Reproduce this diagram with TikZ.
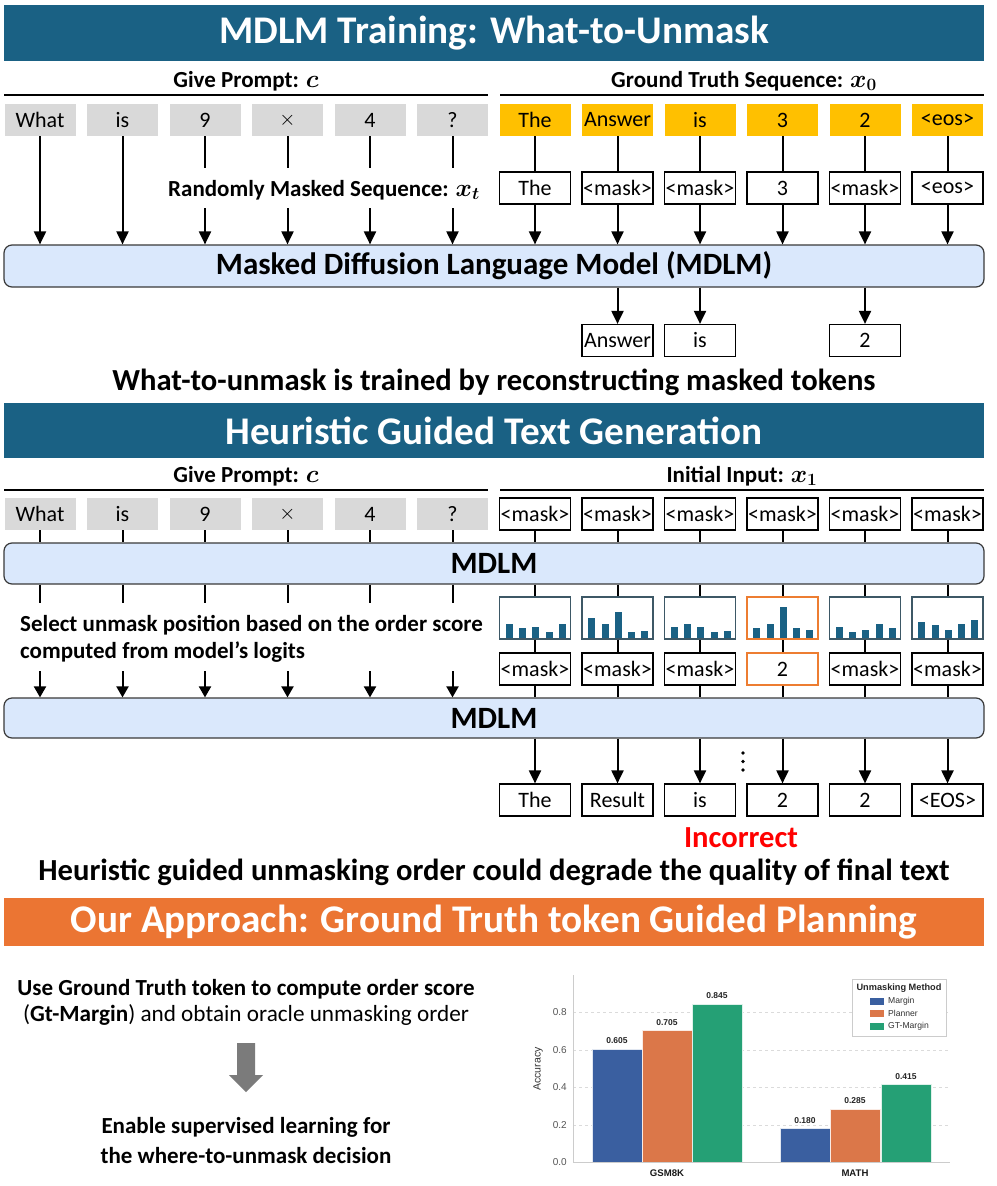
\documentclass[tikz,border=0pt]{standalone}
\usepackage{fontspec}
\usepackage{amsmath}
\setmainfont{Carlito}
\newfontfamily\chartfont{Liberation Sans}
\usetikzlibrary{arrows.meta,calc}
\definecolor{hdrblue}{HTML}{1A6184}
\definecolor{hdrorange}{HTML}{EB7533}
\definecolor{tokgray}{HTML}{D9D9D9}
\definecolor{tokyellow}{HTML}{FFC000}
\definecolor{mdlmfill}{HTML}{DAE8FC}
\definecolor{mdlmborder}{HTML}{3A3A3A}
\definecolor{barblue}{HTML}{1A6184}
\definecolor{barborder}{HTML}{3D5866}
\definecolor{hlorange}{HTML}{ED7D31}
\definecolor{arrgray}{HTML}{7B7B7B}
\definecolor{cMargin}{HTML}{3A5FA0}
\definecolor{cPlanner}{HTML}{DB7749}
\definecolor{cGT}{HTML}{25A075}
\definecolor{spinegray}{HTML}{CCCCCC}
\definecolor{ticktext}{HTML}{555555}
\newcommand{\tokfont}{\fontsize{22}{25}\selectfont}
\newcommand{\hdrfont}{\fontsize{39.2}{43}\selectfont\bfseries}
\newcommand{\lblfont}{\fontsize{23}{26}\selectfont\bfseries}
\newcommand{\bigfont}{\fontsize{30.6}{34}\selectfont\bfseries}
\newcommand{\mdfont}{\fontsize{31}{35}\selectfont\bfseries}
\tikzset{
  tok/.style={minimum width=71pt, minimum height=32pt, inner sep=0pt, font=\tokfont},
  gtok/.style={tok, fill=tokgray},
  ytok/.style={tok, fill=tokyellow},
  wtok/.style={tok, draw=black, line width=1.2pt, fill=white},
  hltok/.style={tok, draw=hlorange, line width=2.5pt, fill=white},
  arr/.style={line width=2pt, -{Triangle[width=12pt,length=13pt]}},
  sarr/.style={line width=2pt, -{Triangle[width=12pt,length=11pt]}},
  ln/.style={line width=2pt},
  mdlm/.style={draw=mdlmborder, fill=mdlmfill, rounded corners=8pt, line width=1.2pt, minimum width=980pt, inner sep=0pt, font=\mdfont},
  header/.style={minimum width=980pt, inner sep=0pt, text=white, font=\hdrfont},
  lbl/.style={inner sep=0pt, font=\lblfont},
  bigtxt/.style={inner sep=0pt, font=\bigfont},
  barbox/.style={minimum width=71pt, minimum height=42pt, inner sep=0pt, draw=barborder, line width=1.2pt},
  hlbarbox/.style={minimum width=71pt, minimum height=42pt, inner sep=0pt, draw=hlorange, line width=2.5pt},
  btxt/.style={inner sep=0pt, font=\fontsize{23.2}{26}\selectfont},
  tick/.style={inner sep=0pt, anchor=east, text=ticktext, font=\chartfont\fontsize{10}{12}\selectfont},
  vallbl/.style={inner sep=0pt, text=black!85, font=\chartfont\bfseries\fontsize{8.5}{10}\selectfont},
  catlbl/.style={inner sep=0pt, text=black!90, font=\chartfont\bfseries\fontsize{9.6}{11}\selectfont},
  leg/.style={inner sep=0pt, anchor=west, text=black!80, font=\chartfont\fontsize{8.6}{10}\selectfont},
}
\begin{document}
\begin{tikzpicture}[x=1pt,y=-1pt]
\useasboundingbox (0,0) rectangle (996,1186);
\fill[white] (0,0) rectangle (996,1186);

% ===== Section 1 =====
\node[header, fill=hdrblue, minimum height=56pt] (h1) at (494,33) {MDLM Training: What-to-Unmask};
\node[lbl] (gp1) at (246,81) {Give Prompt: $\boldsymbol{c}$};
\node[lbl] (gt1) at (744,81) {Ground Truth Sequence: $\boldsymbol{x_0}$};
\draw[ln] (4,95) -- (488,95);
\draw[ln] (500,95) -- (984,95);

\foreach \i/\t in {1/What,2/is,3/9,4/$\times$,5/4,6/?}
  \node[gtok] (pa\i) at ({40+82.5*(\i-1)},120) {\t};
\foreach \i/\t in {1/The,2/Answer,3/is,4/3,5/2,6/<eos>}
  \node[ytok] (ya\i) at ({535+82.5*(\i-1)},120) {\t};
\foreach \i/\t in {1/The,2/<mask>,3/<mask>,4/3,5/<mask>,6/<eos>}
  \node[wtok] (wa\i) at ({535+82.5*(\i-1)},188) {\t};

\node[mdlm, minimum height=42pt] (mA) at (494,266) {Masked Diffusion Language Model (MDLM)};
\node[lbl] (rms) at (324,190) {Randomly Masked Sequence: $\boldsymbol{x_t}$};

\foreach \i in {1,2}
  \draw[arr] (pa\i.south) -- (pa\i.south |- mA.north);
\foreach \i in {3,...,6}{
  \coordinate (ga\i) at ($(pa\i.south)+(0,32)$);
  \coordinate (gb\i) at ($(pa\i.south)+(0,72)$);
  \draw[ln] (pa\i.south) -- (ga\i);
  \draw[arr] (gb\i) -- (gb\i |- mA.north);
}
\foreach \i in {1,...,6}{
  \draw[ln] (ya\i.south) -- (wa\i.north);
  \draw[arr] (wa\i.south) -- (wa\i.south |- mA.north);
}
\node[wtok] (oa2) at (617.5,340.5) {Answer};
\node[wtok] (oa3) at (700,340.5) {is};
\node[wtok] (oa5) at (865,340.5) {2};
\foreach \i in {2,3,5}
  \draw[arr] (mA.south -| oa\i) -- (oa\i.north);

\node[bigtxt] (t1) at (494,382) {What-to-unmask is trained by reconstructing masked tokens};

% ===== Section 2 =====
\node[header, fill=hdrblue, minimum height=55pt] (h2) at (494,430.5) {Heuristic Guided Text Generation};
\node[lbl] (gp2) at (246,476) {Give Prompt: $\boldsymbol{c}$};
\node[lbl] (ii2) at (742,476) {Initial Input: $\boldsymbol{x_1}$};
\draw[ln] (4,490) -- (488,490);
\draw[ln] (500,490) -- (984,490);

\foreach \i/\t in {1/What,2/is,3/9,4/$\times$,5/4,6/?}
  \node[gtok] (pb\i) at ({40+82.5*(\i-1)},514) {\t};
\foreach \i in {1,...,6}
  \node[wtok] (mb\i) at ({535+82.5*(\i-1)},514) {<mask>};

\node[mdlm, minimum height=41pt] (mB) at (494,563.5) {MDLM};
\node[mdlm, minimum height=40pt] (mC) at (494,718) {MDLM};

\foreach \i in {1,...,6}{
  \draw[ln] (pb\i.south) -- (pb\i.south |- mB.north);
  \coordinate (sa\i) at ($(mB.south -| pb\i)+(0,18)$);
  \draw[ln] (mB.south -| pb\i) -- (sa\i);
  \coordinate (sb\i) at ($(mC.north -| pb\i)+(0,-26)$);
  \draw[sarr] (sb\i) -- (sb\i |- mC.north);
  \draw[ln] (mb\i.south) -- (mb\i.south |- mB.north);
}
\node[lbl, anchor=west] (sel1) at (20,625) {Select unmask position based on the order score};
\node[lbl, anchor=west] (sel2) at (20,652) {computed from model’s logits};

% bar boxes
\foreach \i in {1,2,3,5,6}
  \node[barbox] (bx\i) at ({535+82.5*(\i-1)},618) {};
\node[hlbarbox] (bx4) at (782.5,618) {};
\foreach \c/\hs in {1/{14.7,10,11.7,6.3,14.7},2/{20,14,26,6.7,7.7},3/{11.7,14.3,11.7,6.7,7.7},4/{10.7,14.3,31,10,8},5/{11.7,6.3,8.3,14.3,10},6/{16,13.3,8.7,14.7,18}}{
  \foreach \h [count=\j from 0] in \hs
    \fill[barblue] ({500+82.5*(\c-1)+5.7+13.3*\j},638.3) rectangle ++(7,-\h);
}
\foreach \i in {1,2,3,5,6}
  \node[wtok] (mc\i) at ({535+82.5*(\i-1)},669) {<mask>};
\node[hltok] (mc4) at (782.5,669) {2};

\foreach \i in {1,...,6}{
  \draw[ln] (mB.south -| bx\i) -- (bx\i.north);
  \draw[ln] (bx\i.south) -- (mc\i.north);
  \draw[ln] (mc\i.south) -- (mc\i.south |- mC.north);
}

\foreach \i/\t in {1/The,2/Result,3/is,4/2,5/2,6/<EOS>}
  \node[wtok] (fd\i) at ({535+82.5*(\i-1)},800) {\t};
\foreach \i in {1,...,6}
  \draw[arr] (mC.south -| fd\i) -- (fd\i.north);
\fill (743,753) circle[radius=1.9pt];
\fill (743,761.5) circle[radius=1.9pt];
\fill (743,770) circle[radius=1.9pt];

\node[bigtxt, text=red] (inc) at (741,838) {Incorrect};
\node[bigtxt] (t2) at (494,872) {Heuristic guided unmasking order could degrade the quality of final text};

% ===== Section 3 =====
\node[header, fill=hdrorange, minimum height=48pt] (h3) at (494,922) {Our Approach: Ground Truth token Guided Planning};

\node[lbl] (u1) at (246,989) {Use Ground Truth token to compute order score};
\node[btxt] (u2) at (246,1015) {(\textbf{Gt-Margin}) and obtain oracle unmasking order};
\fill[arrgray] (237,1043) -- (255,1043) -- (255,1075) -- (263,1075) -- (246,1092) -- (229,1075) -- (237,1075) -- cycle;
\node[lbl] (e1) at (246,1127) {Enable supervised learning for};
\node[lbl] (e2) at (246,1155) {the where-to-unmask decision};

% ===== Chart =====
\foreach \v in {0.2,0.4,0.6,0.8}
  \draw[spinegray!70, dashed, line width=0.6pt] (573,{1162.3-187.5*\v}) -- (950,{1162.3-187.5*\v});
\foreach \v in {0.0,0.2,0.4,0.6,0.8}
  \node[tick] at (567,{1162.3-187.5*\v}) {\v};
% bars
\foreach \x/\v/\col/\lab in {592/0.605/cMargin/0.605,642/0.705/cPlanner/0.705,692/0.845/cGT/0.845,780/0.18/cMargin/0.180,830/0.285/cPlanner/0.285,881/0.415/cGT/0.415}{
  \filldraw[fill=\col, draw=white!85!\col, line width=0.6pt] (\x,1162.3) rectangle ++(50,{-187.5*\v});
  \node[vallbl] at ({\x+25},{1162.3-187.5*\v-8}) {\lab};
}
\draw[spinegray, line width=1pt] (573,975) -- (573,1162.3) -- (950,1162.3);
\node[inner sep=0pt, rotate=90, text=black!80, font=\chartfont\fontsize{10.5}{12}\selectfont] (acc) at (538,1069) {Accuracy};
\node[catlbl] (c1) at (667,1173) {GSM8K};
\node[catlbl] (c2) at (855,1173) {MATH};
% legend
\draw[spinegray, fill=white, line width=0.8pt] (852,979) rectangle (946,1036);
\node[inner sep=0pt, text=black!85, font=\chartfont\bfseries\fontsize{9.2}{10}\selectfont] (lt) at (899,988.5) {Unmasking Method};
\foreach \y/\col/\lab in {1001/cMargin/Margin,1013.5/cPlanner/Planner,1026/cGT/GT-Margin}{
  \fill[\col] (870,{\y-3.5}) rectangle (884,{\y+3.5});
  \node[leg] at (888,\y) {\lab};
}
\end{tikzpicture}
\end{document}
